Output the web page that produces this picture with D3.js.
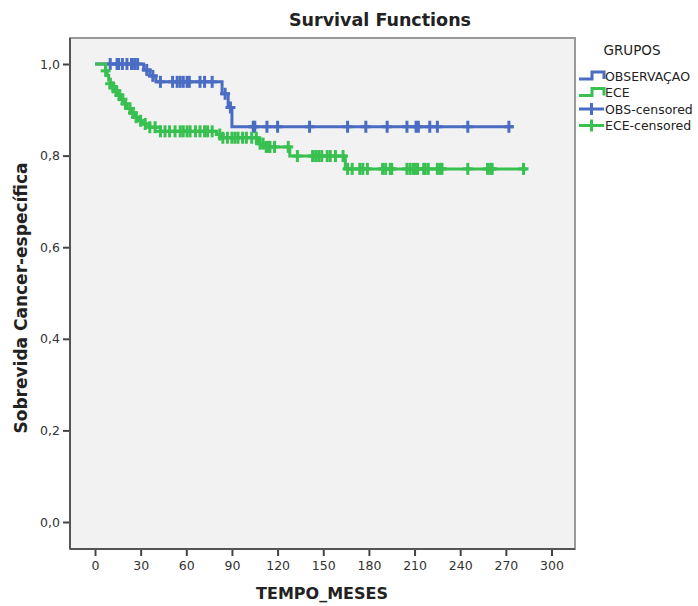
<!DOCTYPE html>
<html>
<head>
<meta charset="utf-8">
<script src="https://cdn.jsdelivr.net/npm/d3@7"></script>
<style>
  body { margin: 0; background: #fff; }
  svg { display: block; font-family: "DejaVu Sans", sans-serif; }
</style>
</head>
<body>
<svg id="chart" width="698" height="606"></svg>
<script>
// OBSERVACAO group (step function)
const obsTime = [0, 32, 36, 40, 83.5, 87.5, 90];
const obsSurv = [1.0, 0.987, 0.974, 0.961, 0.935, 0.905, 0.863];
const obsEnd = 275;
const obsCensor = [10, 14.5, 15.5, 18, 21, 24, 26, 28, 34, 38, 43, 51, 54, 56, 58, 60.5, 62, 69, 72, 77, 85.5, 89,
  104, 105, 113, 120, 141, 166, 178, 192, 205, 211, 212.5, 220, 225, 245, 272];

// ECE group (step function)
const eceTime = [0, 7, 8, 9, 10, 11, 12.5, 14.5, 16.5, 18.5, 21, 23.5, 26, 28.5, 31, 36, 43, 80, 83, 107, 111, 128, 164.5];
const eceSurv = [1.0, 0.985, 0.975, 0.965, 0.957, 0.949, 0.941, 0.932, 0.923, 0.913, 0.903, 0.893, 0.884, 0.876, 0.869, 0.862, 0.853, 0.846, 0.839, 0.826, 0.819, 0.799, 0.771];
const eceEnd = 284;
const eceCensor = [7, 10, 12, 14, 16, 18, 20, 23, 25, 27, 30, 33, 36, 39.5, 43, 46, 49, 52.6, 56, 58, 60.5, 62.5, 66, 69, 72, 74, 77,
  82, 84, 87, 90, 92, 94, 97, 99.5, 103, 106, 108.5, 110.5, 112.5, 114, 115, 118, 127,
  133, 143, 145, 147, 149, 152.6, 154.6, 158, 163,
  166, 169, 174, 176, 179, 189, 191, 194, 195, 205, 207, 209, 210.5, 212, 216, 217, 219, 225, 227, 228, 245, 258, 260, 261, 281.6];

const xTicks = [0, 30, 60, 90, 120, 150, 180, 210, 240, 270, 300];
const yTicks = [0, 0.2, 0.4, 0.6, 0.8, 1.0];

const legendLabels = ["OBSERVAÇAO", "ECE", "OBS-censored", "ECE-censored"];

const blue = "#4a6cc2";
const green = "#38c050";

const svg = d3.select("#chart");
const frame = { left: 70, right: 575, top: 38, bottom: 549 };

const x = d3.scaleLinear().domain([0, 300]).range([95, 551.5]);
const y = d3.scaleLinear().domain([0, 1]).range([522, 64]);

// plot background
svg.append("rect")
  .attr("x", frame.left).attr("y", frame.top)
  .attr("width", frame.right - frame.left).attr("height", frame.bottom - frame.top)
  .attr("fill", "#f2f2f2").attr("stroke", "#999").attr("stroke-width", 2);

// title
svg.append("text")
  .attr("x", 380).attr("y", 26)
  .attr("text-anchor", "middle")
  .attr("font-size", 17.5).attr("font-weight", "bold").attr("fill", "#222")
  .text("Survival Functions");

// axes
const fmt = d => d3.format(".1f")(d).replace(".", ",");
const yAxis = svg.append("g")
  .attr("transform", `translate(${frame.left},0)`)
  .call(d3.axisLeft(y).tickValues(yTicks).tickFormat(fmt).tickSize(7).tickPadding(3));
const xAxis = svg.append("g")
  .attr("transform", `translate(0,${frame.bottom})`)
  .call(d3.axisBottom(x).tickValues(xTicks).tickSize(7).tickPadding(5));
[xAxis, yAxis].forEach(g => {
  g.select(".domain").remove();
  g.selectAll(".tick line").attr("stroke", "#444").attr("stroke-width", 2);
  g.selectAll(".tick text").attr("font-size", 12.5).attr("fill", "#333")
    .attr("font-family", "DejaVu Sans, sans-serif");
});

// darker left / bottom frame lines
svg.append("line").attr("x1", frame.left).attr("x2", frame.left)
  .attr("y1", frame.top).attr("y2", frame.bottom).attr("stroke", "#555").attr("stroke-width", 2);
svg.append("line").attr("x1", frame.left).attr("x2", frame.right)
  .attr("y1", frame.bottom).attr("y2", frame.bottom).attr("stroke", "#555").attr("stroke-width", 2);

// axis titles
svg.append("text")
  .attr("x", 322).attr("y", 599)
  .attr("text-anchor", "middle")
  .attr("font-size", 16).attr("font-weight", "bold").attr("fill", "#222")
  .text("TEMPO_MESES");
svg.append("text")
  .attr("transform", "translate(27,298) rotate(-90)")
  .attr("text-anchor", "middle")
  .attr("font-size", 17).attr("font-weight", "bold").attr("fill", "#222")
  .text("Sobrevida Cancer-específica");

// survival curves
function stepData(times, surv, end) {
  const pts = times.map((t, i) => [t, surv[i]]);
  pts.push([end, surv[surv.length - 1]]);
  return pts;
}
function survAt(times, surv, t) {
  let s = surv[0];
  times.forEach((tt, i) => { if (tt <= t) s = surv[i]; });
  return s;
}
const line = d3.line().x(d => x(d[0])).y(d => y(d[1])).curve(d3.curveStepAfter);

const groups = [
  { times: obsTime, surv: obsSurv, end: obsEnd, cens: obsCensor, color: blue },
  { times: eceTime, surv: eceSurv, end: eceEnd, cens: eceCensor, color: green }
];

groups.forEach(g => {
  svg.append("path")
    .datum(stepData(g.times, g.surv, g.end))
    .attr("d", line)
    .attr("fill", "none").attr("stroke", g.color).attr("stroke-width", 3);
  const marks = svg.append("g");
  marks.selectAll("line.v").data(g.cens).join("line")
    .attr("x1", d => x(d)).attr("x2", d => x(d))
    .attr("y1", d => y(survAt(g.times, g.surv, d)) - 6)
    .attr("y2", d => y(survAt(g.times, g.surv, d)) + 6)
    .attr("stroke", g.color).attr("stroke-width", 3);
  marks.selectAll("line.h").data(g.cens).join("line")
    .attr("x1", d => x(d) - 5).attr("x2", d => x(d) + 5)
    .attr("y1", d => y(survAt(g.times, g.surv, d)))
    .attr("y2", d => y(survAt(g.times, g.surv, d)))
    .attr("stroke", g.color).attr("stroke-width", 3);
});

// legend
const legend = svg.append("g");
legend.append("text")
  .attr("x", 632).attr("y", 55).attr("text-anchor", "middle")
  .attr("font-size", 13.5).attr("fill", "#222").text("GRUPOS");
const legColors = [blue, green, blue, green];
legendLabels.forEach((lab, i) => {
  const cy = 76 + i * 16.5;
  if (i < 2) {
    legend.append("path")
      .attr("d", `M579,${cy + 3}H592V${cy - 4}H604V${cy + 3}`)
      .attr("fill", "none").attr("stroke", legColors[i]).attr("stroke-width", 3);
  } else {
    legend.append("path")
      .attr("d", `M579,${cy}H604M591.5,${cy - 6}V${cy + 6}`)
      .attr("fill", "none").attr("stroke", legColors[i]).attr("stroke-width", 3);
  }
  legend.append("text")
    .attr("x", 605).attr("y", cy + 4.5)
    .attr("font-size", 12.5).attr("fill", "#222").text(lab);
});
</script>
</body>
</html>
